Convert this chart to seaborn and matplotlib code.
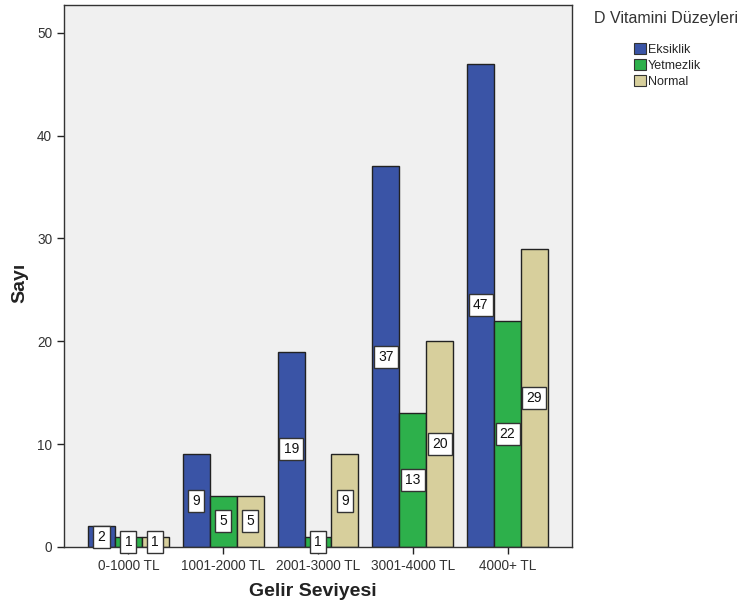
import matplotlib
matplotlib.use("Agg")
import matplotlib.pyplot as plt
from matplotlib.patches import Patch
import seaborn as sns
import pandas as pd

# Income groups and vitamin D level counts
gelir = ["0-1000 TL", "1001-2000 TL", "2001-3000 TL", "3001-4000 TL", "4000+ TL"]
duzeyler = ["Eksiklik", "Yetmezlik", "Normal"]
eksiklik = [2, 9, 19, 37, 47]
yetmezlik = [1, 5, 1, 13, 22]
normal = [1, 5, 9, 20, 29]

renkler = ["#3A54A6", "#2DB04B", "#D7CF9C"]

df = pd.DataFrame({
    "Gelir Seviyesi": gelir * 3,
    "D Vitamini Düzeyleri": sum([[d] * len(gelir) for d in duzeyler], []),
    "Sayı": eksiklik + yetmezlik + normal,
})

sns.set_style("white")
plt.rcParams["font.family"] = ["Liberation Sans", "DejaVu Sans"]

W, H = 741, 608
fig = plt.figure(figsize=(W / 100, H / 100), dpi=100)
ax = fig.add_axes([64 / W, 1 - 547 / H, (572 - 64) / W, (547 - 5) / H])
ax.set_facecolor("#F0F0F0")

sns.barplot(data=df, x="Gelir Seviyesi", y="Sayı", hue="D Vitamini Düzeyleri",
            hue_order=duzeyler, palette=renkler, width=0.85, ax=ax,
            edgecolor="#222222", linewidth=1.0, saturation=1, errorbar=None,
            legend=False)

# value boxes in the middle of each bar
for cont in ax.containers:
    for bar in cont:
        h = bar.get_height()
        ax.text(bar.get_x() + bar.get_width() / 2, h / 2, f"{int(h)}",
                ha="center", va="center", fontsize=10, color="#111111",
                bbox=dict(boxstyle="square,pad=0.3", facecolor="white",
                          edgecolor="#333333", linewidth=1.0), zorder=5)

ax.set_ylim(0, 52.7)
ax.set_xlim(-0.68, 4.68)
ax.set_yticks([0, 10, 20, 30, 40, 50])
ax.tick_params(axis="both", labelsize=9.8, colors="#222222", length=5, width=1,
               direction="out", left=True, bottom=True)
ax.tick_params(axis="both", labelcolor="#333333")
for s in ax.spines.values():
    s.set_color("#333333")
    s.set_linewidth(1.0)

ax.set_xlabel("Gelir Seviyesi", fontsize=14, fontweight="bold", color="#222222",
              va="center", ha="center")
ax.xaxis.set_label_coords((313 - 64) / 508, -(592 - 547) / 542)
ax.set_ylabel("Sayı", fontsize=14, fontweight="bold", color="#222222",
              va="center", ha="center")
ax.yaxis.set_label_coords((20 - 64) / 508, (547 - 283) / 542)

# legend: title on top, entries indented beneath it
fig.text(594 / W, 1 - 19 / H, "D Vitamini Düzeyleri", fontsize=11.5,
         color="#333333", ha="left", va="center")
handles = [Patch(facecolor=c, edgecolor="#333333", linewidth=0.8) for c in renkler]
fig.legend(handles, duzeyler, loc="upper left",
           bbox_to_anchor=(625 / W, 1 - 34 / H), frameon=False, fontsize=9,
           handlelength=1.0, handleheight=1.0, handletextpad=0.15,
           labelspacing=0.25, borderpad=0.2)

fig.savefig("out.png", dpi=100, facecolor="white")
